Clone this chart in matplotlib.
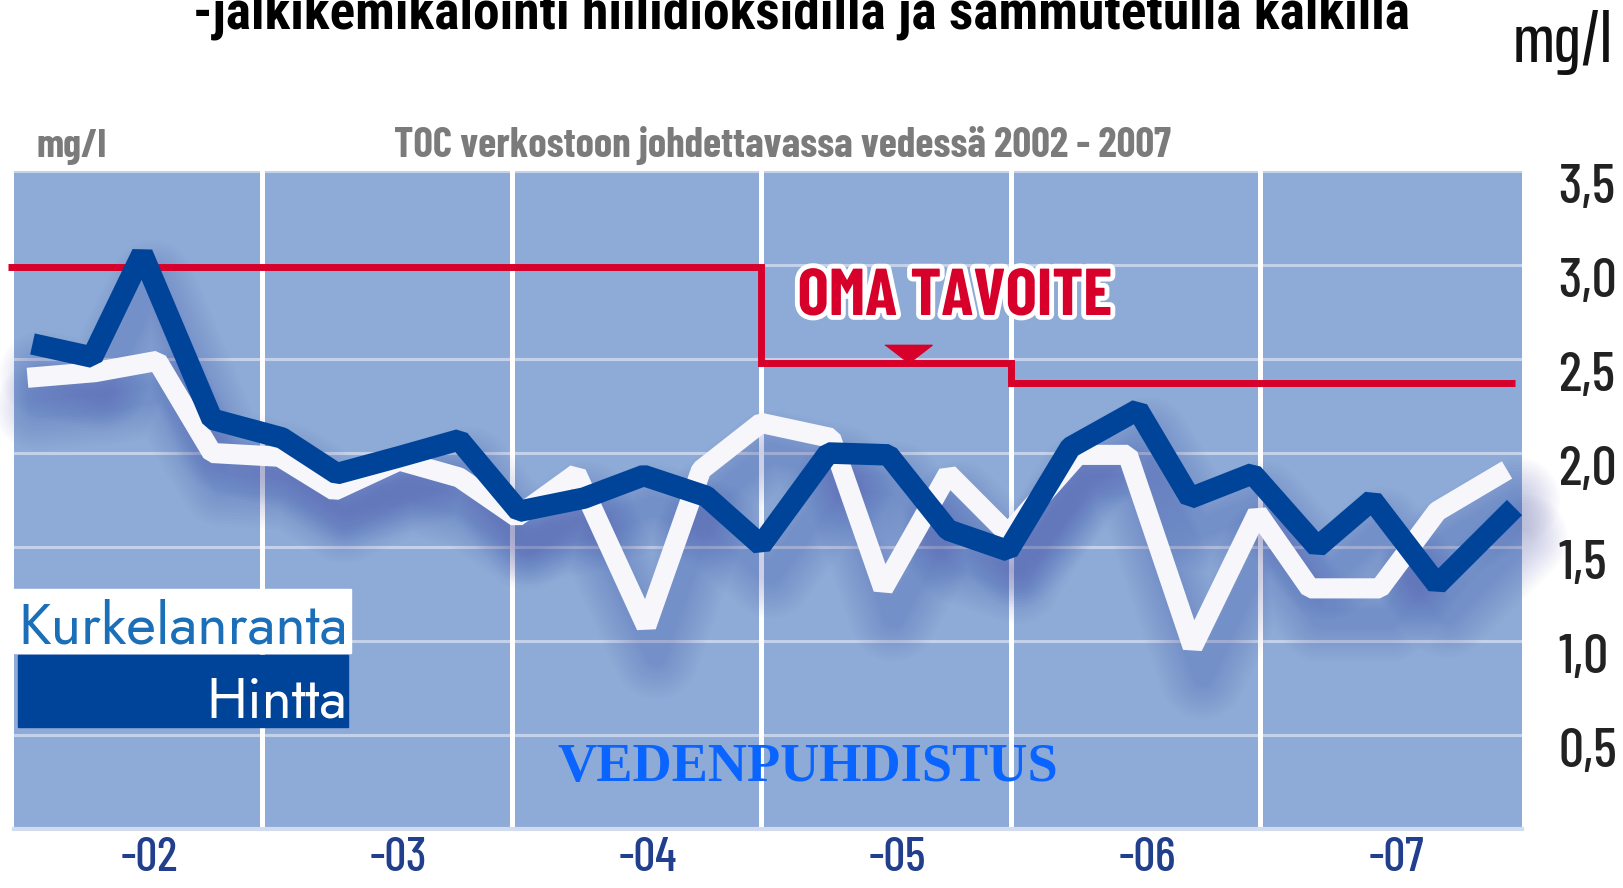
import matplotlib
matplotlib.use("Agg")
import matplotlib.pyplot as plt
from matplotlib import patheffects
from matplotlib.patches import Rectangle
from matplotlib.transforms import ScaledTranslation

W, H = 1624, 888

# TOC (mg/l), luettu kuvasta: Hintta (tumma) ja Kurkelanranta (valkoinen)
vuosi_hintta = [2002.08, 2002.32, 2002.52, 2002.80, 2003.08, 2003.30, 2003.55, 2003.79,
                2004.03, 2004.29, 2004.53, 2004.78, 2005.00, 2005.27, 2005.51, 2005.75,
                2005.99, 2006.24, 2006.51, 2006.72, 2006.97, 2007.23, 2007.45, 2007.71, 2008.02]
hintta = [2.58, 2.51, 3.06, 2.18, 2.08, 1.89, 1.98, 2.07,
          1.69, 1.76, 1.88, 1.77, 1.51, 2.00, 1.99, 1.59,
          1.48, 2.03, 2.23, 1.76, 1.89, 1.50, 1.75, 1.30, 1.71]

vuosi_kurkela = [2002.06, 2002.33, 2002.58, 2002.80, 2003.07, 2003.29, 2003.55, 2003.79,
                 2004.02, 2004.26, 2004.54, 2004.76, 2005.00, 2005.28, 2005.49, 2005.75,
                 2005.99, 2006.27, 2006.47, 2006.73, 2006.99, 2007.20, 2007.48, 2007.71, 2007.99]
kurkela = [2.40, 2.43, 2.49, 2.00, 1.98, 1.80, 1.96, 1.87,
           1.66, 1.89, 1.08, 1.91, 2.16, 2.08, 1.28, 1.89,
           1.57, 1.99, 1.99, 0.97, 1.68, 1.28, 1.28, 1.69, 1.91]

# oma tavoite (porrasviiva)
tavoite_x = [2001.98, 2005.0, 2006.0, 2008.02]
tavoite_y = [2.99, 2.48, 2.37, 2.37]
tavoite_merkki = (2005.59, 2.48)

y_ticks = [0.5, 1.0, 1.5, 2.0, 2.5, 3.0, 3.5]
y_labels = ["0,5", "1,0", "1,5", "2,0", "2,5", "3,0", "3,5"]
year_bounds = [2003, 2004, 2005, 2006, 2007]
year_centers = [2002.5, 2003.5, 2004.5, 2005.5, 2006.5, 2007.5]
x_labels = ["-02", "-03", "-04", "-05", "-06", "-07"]

title = "-jälkikemikalointi hiilidioksidilla ja sammutetulla kalkilla"
subtitle = "TOC verkostoon johdettavassa vedessä 2002 - 2007"

BG = "#8eaad7"
DARK = "#00449a"
WHITE = "#f7f7fb"
RED = "#d7002b"


def fpos(x, y):
    """pixel (from top-left) -> figure fraction"""
    return x / W, 1 - y / H


def fit_width(txt, width):
    r = fig.canvas.get_renderer()
    w = txt.get_window_extent(r).width
    txt.set_fontsize(txt.get_fontsize() * width / w)


fig = plt.figure(figsize=(W / 100, H / 100), dpi=100)
ax = fig.add_axes([14 / W, 1 - 829 / H, 1508 / W, 658 / H])
ax.set_facecolor(BG)
ax.set_xlim(2002.006, 2008.05)
ax.set_ylim(0, 3.5)
for s in ["top", "left", "right"]:
    ax.spines[s].set_visible(False)
ax.spines["bottom"].set_color("#d3dcef")
ax.spines["bottom"].set_linewidth(3)

# grid
ax.set_axisbelow(True)
ax.grid(axis="y", color="#c4d1eb", lw=2.2)
for b in year_bounds:
    ax.axvline(b, color="white", lw=3.6, zorder=1)

# ticks
ax.set_yticks(y_ticks, labels=y_labels)
ax.yaxis.tick_right()
ax.tick_params(axis="y", length=0, pad=26, labelsize=40, labelcolor="#222222")
for lab in ax.get_yticklabels():
    lab.set_fontfamily("Barlow Condensed")
    lab.set_fontweight(500)
    lab.set_transform(lab.get_transform() + ScaledTranslation(0, -0.12, fig.dpi_scale_trans))

ax.set_xticks(year_centers, labels=x_labels)
ax.tick_params(axis="x", length=0, pad=6, labelsize=35, labelcolor="#213f8c")
for lab in ax.get_xticklabels():
    lab.set_fontfamily("Barlow Condensed")
    lab.set_fontweight(500)
    lab.set_transform(lab.get_transform() + ScaledTranslation(0.12, 0, fig.dpi_scale_trans))

# soft shadows under the lines (offset down and a little right)
for xs, ys in [(vuosi_kurkela, kurkela), (vuosi_hintta, hintta)]:
    sx = [v + 0.04 for v in xs]
    sy = [v - 0.16 for v in ys]
    for lw in range(14, 64, 4):
        ax.plot(sx, sy, color="#3a48a0", lw=lw, alpha=0.02, solid_joinstyle="round",
                solid_capstyle="round", zorder=1.5, clip_on=False)

# target line
ax.step(tavoite_x, tavoite_y, where="post", color=RED, lw=5, clip_on=False,
        solid_joinstyle="miter", solid_capstyle="butt", zorder=2)
ax.plot([tavoite_merkki[0]], [tavoite_merkki[1]], linestyle="none",
        marker=[(-1.3, 1.0), (1.3, 1.0), (0, 0)], markersize=34, color=RED, zorder=2.5)

# series
ax.plot(vuosi_kurkela, kurkela, color=WHITE, lw=14.5, solid_joinstyle="bevel",
        solid_capstyle="butt", zorder=3)
ax.plot(vuosi_hintta, hintta, color=DARK, lw=15.5, solid_joinstyle="bevel",
        solid_capstyle="butt", zorder=4)

# texts
t = fig.text(*fpos(802, 28), title, ha="center", va="baseline", family="Roboto Condensed",
             weight="bold", fontsize=30, color="black")
fit_width(t, 1214)
t = fig.text(*fpos(1563, 62), "mg/l", ha="center", va="baseline", family="Saira ExtraCondensed",
             weight=500, fontsize=40, color="#111111")
fit_width(t, 100)
t = fig.text(*fpos(71, 157), "mg/l", ha="center", va="baseline", family="Barlow Condensed",
             weight="bold", fontsize=24, color="#7b7b7b")
fit_width(t, 70)
t = fig.text(*fpos(782, 157), subtitle, ha="center", va="baseline", family="Barlow Condensed",
             weight="bold", fontsize=24, color="#7b7b7b")
fit_width(t, 776)

t = fig.text(*fpos(955, 315), "OMA TAVOITE", ha="center", va="baseline",
             family="Barlow Condensed", weight="bold", fontsize=40, color=RED, zorder=6)
fit_width(t, 315)
t.set_path_effects([patheffects.withStroke(linewidth=7, foreground="white")])

t = fig.text(*fpos(808, 781), "VEDENPUHDISTUS", ha="center", va="baseline",
             family="Liberation Serif", weight="bold", fontsize=38, color="#0a64ff", zorder=6)
fit_width(t, 500)

# legend boxes
fig.add_artist(Rectangle(fpos(14, 653), 337 / W, 64 / H, transform=fig.transFigure,
                         color="white", zorder=5))
fig.add_artist(Rectangle(fpos(18, 727), 330 / W, 72 / H, transform=fig.transFigure,
                         color=DARK, zorder=5))
t = fig.text(*fpos(18, 643), "Kurkelanranta", ha="left", va="baseline", family="Jost",
             fontsize=40, color="#1b6fb8", zorder=6)
fit_width(t, 329)
t = fig.text(*fpos(347, 717), "Hintta", ha="right", va="baseline", family="Jost",
             fontsize=40, color="white", zorder=6)
fit_width(t, 141)

fig.savefig("out.png", dpi=100)
